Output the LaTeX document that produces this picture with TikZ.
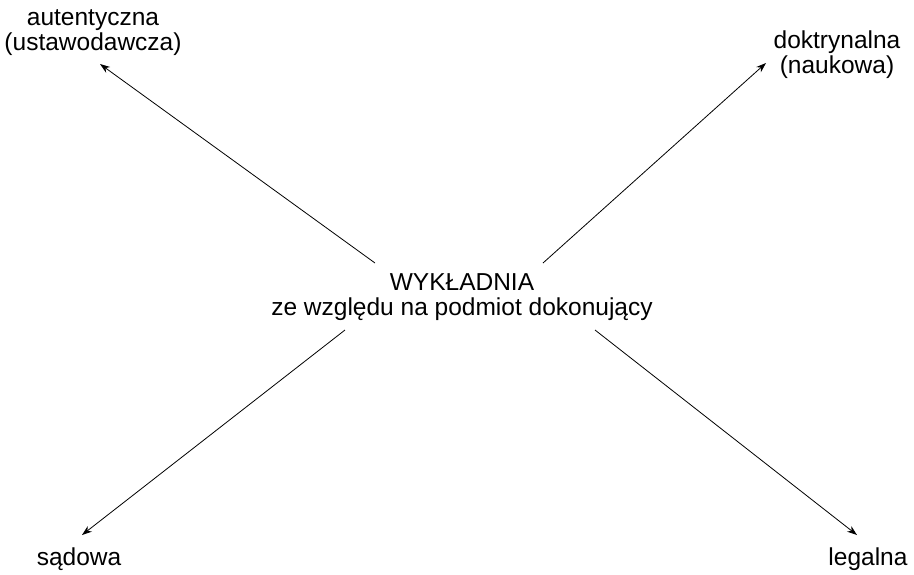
\documentclass[tikz,border=0pt]{standalone}
\usepackage{fontspec}
\setmainfont{Liberation Sans}
\usetikzlibrary{arrows.meta}

\begin{document}
\begin{tikzpicture}[x=1pt,y=-1pt]
        \tikzset{every node/.style={inner sep=0pt,align=center,anchor=base,font=\fontsize{24.5}{25}\selectfont}}
        \tikzset{pointer/.style={draw=black,line width=0.8pt,-{Stealth[length=10pt,width=7pt]}}}
        \useasboundingbox (0,0) rectangle (914,574);
        \node (wyk) at (462,315) {WYKŁADNIA\\ze względu na podmiot dokonujący};
        \node (aut) at (93,50) {autentyczna\\(ustawodawcza)};
        \node (dok) at (837,73) {doktrynalna\\(naukowa)};
        \node (sad) at (79,565) {sądowa};
        \node (leg) at (868,565) {legalna};
        \coordinate (s1) at (375,263);
        \coordinate (s2) at (543,263);
        \coordinate (s3) at (345,330);
        \coordinate (s4) at (595,330);
        \coordinate (t1) at (100,64);
        \coordinate (t2) at (766,63);
        \coordinate (t3) at (82,535);
        \coordinate (t4) at (857,535);
        \draw [pointer] (s1) -- (t1);
        \draw [pointer] (s2) -- (t2);
        \draw [pointer] (s3) -- (t3);
        \draw [pointer] (s4) -- (t4);
    \end{tikzpicture}
\end{document}
